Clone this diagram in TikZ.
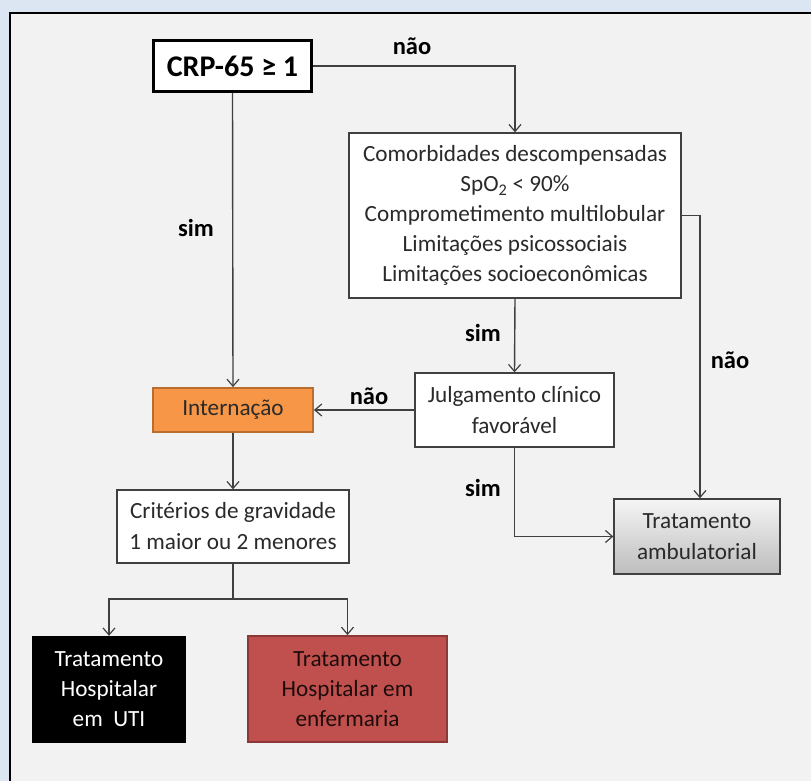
\documentclass[tikz,border=0pt]{standalone}
\usepackage{fontspec}
\setmainfont{Carlito}
\usetikzlibrary{arrows.meta}
\definecolor{outerbg}{HTML}{DCE6F2}
\definecolor{innerbg}{HTML}{F2F2F2}
\definecolor{linec}{HTML}{404040}
\definecolor{txtc}{HTML}{2A2A2A}
\definecolor{orfill}{HTML}{F79646}
\definecolor{ordraw}{HTML}{B96D2F}
\definecolor{rdfill}{HTML}{C0504D}
\definecolor{rddraw}{HTML}{8C3836}
\definecolor{gtop}{HTML}{F5F5F5}
\definecolor{gbot}{HTML}{BDBDBD}
\tikzset{
  box/.style={draw=linec, line width=1.3pt, fill=white, align=center, text=txtc,
    font=\fontsize{23.2}{30}\selectfont, inner sep=0pt},
  conn/.style={draw=linec, line width=1.4pt, -{Straight Barb[length=7pt,width=12pt,line width=1.2pt]}},
  plain/.style={draw=linec, line width=1.4pt},
  lbl/.style={font=\bfseries\fontsize{24.5}{28}\selectfont, text=black}
}
\begin{document}
\begin{tikzpicture}[x=1pt,y=-1pt]
\useasboundingbox (0,0) rectangle (811,781);
\fill[outerbg] (0,0) rectangle (811,781);
\fill[innerbg] (10,13) rectangle (811,781);
\draw[black, line width=2.5pt] (10,781) -- (10,13) -- (811,13);

\node[box, line width=3.2pt, draw=black, text=black, minimum width=158pt, minimum height=51pt,
  font=\bfseries\fontsize{30}{34}\selectfont] (crp) at (232.5,66) {CRP-65 ≥ 1};
\node[box, minimum width=332pt, minimum height=165pt] (como) at (515,215.5)
  {Comorbidades descompensadas\\SpO\textsubscript{2} < 90\%\\Comprometimento multilobular\\Limitações psicossociais\\Limitações socioeconômicas};
\node[box, minimum width=199pt, minimum height=74pt, font=\fontsize{23.2}{31}\selectfont] (julg) at (514.5,410)
  {Julgamento clínico\\favorável};
\node[box, fill=orfill, draw=ordraw, line width=1.8pt, minimum width=160pt, minimum height=44pt] (inter) at (233,410)
  {Internação};
\node[box, minimum width=232pt, minimum height=73pt, font=\fontsize{23.2}{31}\selectfont] (crit) at (233,526.5)
  {Critérios de gravidade\\1 maior ou 2 menores};
\node[box, top color=gtop, bottom color=gbot, minimum width=166pt, minimum height=75pt, font=\fontsize{23.2}{31}\selectfont] (amb) at (697,536.5)
  {Tratamento\\ambulatorial};
\node[box, fill=black, draw=black, text=white, minimum width=152pt, minimum height=106pt] (uti) at (109,689.5)
  {Tratamento\\Hospitalar\\em\ \ UTI};
\node[box, fill=rdfill, draw=rddraw, line width=1.8pt, text=black!85!rdfill, minimum width=199pt, minimum height=106pt] (enf) at (347.5,689)
  {Tratamento\\Hospitalar em\\enfermaria};

\coordinate (split) at (233,599);

\draw[conn] (crp.south) -- (inter.north);
\draw[conn] (crp.east) -| (como.north);
\draw[conn] (como.east) -| ([xshift=3pt]amb.north);
\draw[conn] (como.south) -- (julg.north);
\draw[conn] (julg.west) -- (inter.east);
\draw[conn] (julg.south) |- (amb.west);
\draw[conn] (inter.south) -- (crit.north);
\draw[plain] (crit.south) -- (split);
\draw[conn] (split) -| (uti.north);
\draw[conn] (split) -| (enf.north);

\node[lbl] (l1) at (412,46) {não};
\node[lbl] (l2) at (196,228) {sim};
\node[lbl] (l3) at (730,360) {não};
\node[lbl] (l4) at (483,333) {sim};
\node[lbl] (l5) at (369,396) {não};
\node[lbl] (l6) at (483,488) {sim};
\end{tikzpicture}
\end{document}
